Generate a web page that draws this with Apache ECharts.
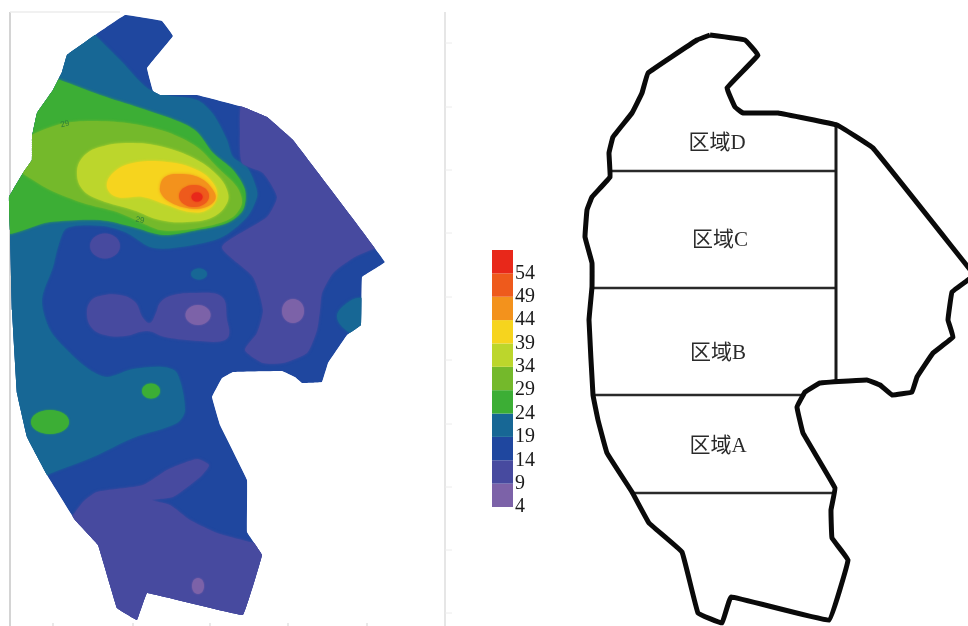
<!DOCTYPE html>
<html><head><meta charset="utf-8">
<style>html,body{margin:0;padding:0;background:#fff}#c{width:968px;height:626px}</style>
<script src="https://cdn.jsdelivr.net/npm/echarts@6/dist/echarts.min.js"></script>
</head><body><div id="c"></div>
<script>
// Colour scale
const scaleStarts = [4, 9, 14, 19, 24, 29, 34, 39, 44, 49, 54];
const scaleColors = ['#7c62a8', '#474a9f', '#1f479f', '#176795', '#3cae35', '#74b92b', '#bcd62c', '#f6d41e', '#f3921c', '#ee5a1c', '#e8281a'];
const scaleMax = 59;

// Left map: boundary and contour regions (map units)
const mapBoundary = [[125,15],[162,21],[173,36],[147,68],[153,91],[160,95],[197,95],[243,107],[267,117],[293,140],[385,262],[362,277],[361,325],[347,335],[328,363],[322,382],[302,383],[295,377],[282,371],[233,372],[222,378],[212,397],[220,425],[247,480],[247,532],[262,555],[243,615],[147,593],[137,620],[117,608],[98,545],[75,520],[47,475],[27,437],[17,393],[12,310],[10,230],[9,197],[23,173],[32,160],[32,137],[37,113],[53,90],[62,72],[67,55],[95,35]];
const contour19 = [[95,35],[122,62],[147,88],[165,95],[197,100],[213,114],[227,140],[233,157],[247,167],[256,187],[257,197],[247,217],[220,238],[173,248],[150,247],[127,233],[103,226],[67,228],[58,247],[53,267],[42,300],[50,330],[70,353],[90,370],[107,377],[133,369],[163,367],[177,373],[185,410],[177,423],[133,438],[93,457],[47,475],[20,490],[-5,400],[-5,60],[70,10]];
const contour9East = [[243,100],[240,133],[242,163],[263,173],[277,197],[267,217],[222,247],[253,277],[263,310],[257,333],[245,350],[263,363],[283,363],[307,353],[317,330],[320,310],[322,293],[333,273],[353,258],[373,249],[400,240],[400,100],[300,80]];
const contour9South = [[65,528],[83,502],[97,492],[143,485],[167,470],[197,459],[209,465],[200,477],[173,497],[152,500],[170,505],[190,520],[217,533],[250,542],[275,548],[275,635],[90,635],[60,545]];
const contour9Middle = [[87,315],[90,302],[100,296],[120,295],[135,302],[143,318],[150,323],[156,313],[160,303],[170,296],[195,293],[222,297],[227,320],[229,335],[222,341],[200,341],[165,337],[147,331],[125,336],[105,335],[92,328]];
const contour19East = [[337,317],[347,303],[362,298],[378,310],[372,340],[350,333]];
const contour24 = [[60,80],[100,95],[140,108],[180,122],[197,132],[213,153],[233,170],[245,190],[243,210],[227,223],[197,230],[163,235],[133,227],[100,220],[50,222],[0,232],[0,150],[30,70]];
const contour29 = [[20,143],[57,125],[87,121],[127,123],[167,132],[197,147],[217,167],[237,187],[242,203],[233,217],[213,225],[183,230],[160,230],[140,222],[117,212],[83,203],[50,190],[33,180],[18,168]];
const contour34 = [[77,173],[83,157],[100,147],[133,143],[167,148],[197,160],[217,175],[227,190],[227,203],[213,217],[187,222],[160,220],[133,210],[100,200],[83,190]];
const contour39 = [[107,187],[113,173],[133,163],[167,162],[197,170],[213,183],[217,198],[207,210],[190,212],[167,205],[143,197],[117,197]];
const contour44 = [[160,187],[165,177],[180,174],[200,178],[213,190],[215,200],[203,208],[187,208],[170,202],[162,195]];
// Closed spots: centre x, centre y, radius x, radius y, band start
const spots = [
  [105,246,15,12.5,9],[198,315,12.5,10,4],[293,311,11,12,4],[198,586,6,8,4],
  [199,274,8,5.5,19],[151,391,9,7.5,24],[50,422,19,12,24],
  [194,196,15,11,49],[197,197,5.5,4.5,54]
];
const contourNotes = [['29',65,124,-15],['29',140,220,10]];

// Right map: zone outline and dividers
const zoneOutline = [[710,35],[745,40],[758,55],[727,88],[735,107],[743,113],[778,113],[837,125],[873,148],[976,277],[976,274],[968,280],[952,292],[948,320],[953,337],[933,353],[917,377],[912,392],[892,395],[880,385],[867,380],[820,383],[805,392],[797,407],[803,433],[835,488],[831,510],[832,538],[848,560],[829,620],[731,597],[722,623],[698,613],[682,552],[649,523],[632,492],[607,453],[598,420],[593,395],[589,320],[592,287],[592,263],[585,237],[587,210],[592,197],[610,177],[609,153],[613,137],[632,113],[642,93],[648,73],[697,40],[710,35]];
const zoneDividers = [[[610,171],[836,171]],[[592,288],[836,288]],[[593,395],[803,395]],[[633,493],[835,493]]];
const zoneSpine = [[836,125],[836,382]];
const zoneNames = ['区域D','区域C','区域B','区域A'];
const zoneLabelAt = [[717,143],[720,240],[718,353],[718,446]];

// Faint frame behind the left map
const frameLines = [[[10,12],[10,626]],[[10,12],[120,12]],[[445,12],[445,626]]];
const frameTicksRight = [43,107,170,233,297,360,424,487,550,613];
const frameTicksBottom = [53,133,210,288,367];

const colorOf = v => scaleColors[scaleStarts.indexOf(v)];
const regions = [
  [mapBoundary, 14, 0.04],
  [contour19, 19, .3],
  [contour9East, 9, .2],
  [contour9South, 9, .2],
  [contour9Middle, 9, .4],
  [contour19East, 19, .4],
  [contour24, 24, .3],
  [contour29, 29, .3],
  [contour34, 34, .4],
  [contour39, 39, .4],
  [contour44, 44, .4]
];

const chart = echarts.init(document.getElementById('c'), null, {renderer:'canvas'});
const toPx = (api, pts) => pts.map(p => api.coord(p));

chart.setOption({
  animation:false,
  backgroundColor:'#fff',
  grid:[
    {left:0,top:0,right:0,bottom:0},
    {left:492,top:250,width:21,height:257}
  ],
  xAxis:[
    {type:'value',gridIndex:0,min:0,max:968,show:false},
    {type:'value',gridIndex:1,min:0,max:1,show:false}
  ],
  yAxis:[
    {type:'value',gridIndex:0,min:0,max:626,inverse:true,show:false},
    {type:'value',gridIndex:1,min:4,max:scaleMax,interval:5,position:'right',
     axisLine:{show:false},axisTick:{show:false},splitLine:{show:false},
     axisLabel:{show:true,showMaxLabel:false,margin:2,padding:[2,0,0,0],color:'#1a1a1a',fontSize:20,fontFamily:'"Liberation Serif",serif',
       align:'left'}}
  ],
  series:[
    { // frame
      type:'custom',coordinateSystem:'cartesian2d',xAxisIndex:0,yAxisIndex:0,silent:true,clip:false,
      data:[0],
      renderItem(params,api){
        const children=[];
        frameLines.forEach((l,i)=>{
          const a=api.coord(l[0]),b=api.coord(l[1]);
          children.push({type:'line',shape:{x1:a[0],y1:a[1],x2:b[0],y2:b[1]},style:{stroke:i===0?'#d4d4d4':(i===1?'#ececec':'#e6e6e6'),lineWidth:i===1?1.5:2}});
        });
        frameTicksRight.forEach(y=>{
          const a=api.coord([445,y]),b=api.coord([452,y]);
          children.push({type:'line',shape:{x1:a[0],y1:a[1],x2:b[0],y2:b[1]},style:{stroke:'#ececec',lineWidth:1}});
        });
        frameTicksBottom.forEach(x=>{
          const a=api.coord([x,623]),b=api.coord([x,626]);
          children.push({type:'line',shape:{x1:a[0],y1:a[1],x2:b[0],y2:b[1]},style:{stroke:'#e2e2e2',lineWidth:1.5}});
        });
        return {type:'group',children};
      }
    },
    { // contour regions, clipped to the boundary
      type:'custom',coordinateSystem:'cartesian2d',xAxisIndex:0,yAxisIndex:0,silent:true,clip:false,
      data:regions.map((r,i)=>i),
      renderItem(params,api){
        const r=regions[params.dataIndex];
        const col=colorOf(r[1]);
        return {type:'polygon',
          shape:{points:toPx(api,r[0]),smooth:r[2]},
          clipPath:{type:'polygon',shape:{points:toPx(api,mapBoundary),smooth:.04}},
          style:{fill:col,shadowBlur:3,shadowColor:col}};
      }
    },
    { // spots
      type:'custom',coordinateSystem:'cartesian2d',xAxisIndex:0,yAxisIndex:0,silent:true,clip:false,
      data:spots,
      renderItem(params,api){
        const s=spots[params.dataIndex];
        const c=api.coord([s[0],s[1]]),e=api.coord([s[0]+s[2],s[1]+s[3]]);
        const col=colorOf(s[4]);
        return {type:'ellipse',shape:{cx:c[0],cy:c[1],rx:Math.abs(e[0]-c[0]),ry:Math.abs(e[1]-c[1])},style:{fill:col,shadowBlur:2,shadowColor:col}};
      }
    },
    { // contour value notes
      type:'custom',coordinateSystem:'cartesian2d',xAxisIndex:0,yAxisIndex:0,silent:true,clip:false,
      data:contourNotes.map((n,i)=>i),
      renderItem(params,api){
        const n=contourNotes[params.dataIndex];
        const c=api.coord([n[1],n[2]]);
        return {type:'text',x:c[0],y:c[1],rotation:-n[3]*Math.PI/180,
          style:{text:n[0],fill:'#2f7f3a',fontSize:8,fontFamily:'"Liberation Sans",sans-serif',align:'center',verticalAlign:'middle'}};
      }
    },
    { // colour bar
      type:'custom',coordinateSystem:'cartesian2d',xAxisIndex:1,yAxisIndex:1,silent:true,clip:false,
      data:scaleStarts.map(v=>[v,v+5]),
      renderItem(params,api){
        const lo=api.value(0),hi=api.value(1);
        const a=api.coord([0,lo]),b=api.coord([1,hi]);
        return {type:'rect',shape:{x:a[0],y:b[1],width:b[0]-a[0],height:a[1]-b[1]},style:{fill:colorOf(lo)}};
      }
    },
    { // zone outline
      type:'custom',coordinateSystem:'cartesian2d',xAxisIndex:0,yAxisIndex:0,silent:true,clip:false,
      data:[0],
      renderItem(params,api){
        const children=[];
        zoneDividers.forEach(l=>{
          children.push({type:'polyline',shape:{points:toPx(api,l)},style:{stroke:'#2a2a2a',lineWidth:2.5,fill:null}});
        });
        children.push({type:'polyline',shape:{points:toPx(api,zoneSpine)},style:{stroke:'#1a1a1a',lineWidth:3,fill:null}});
        children.push({type:'polyline',shape:{points:toPx(api,zoneOutline),smooth:.06},style:{stroke:'#0a0a0a',lineWidth:5,fill:null,lineJoin:'round'}});
        zoneNames.forEach((t,i)=>{
          const c=api.coord(zoneLabelAt[i]);
          children.push({type:'text',x:c[0],y:c[1],style:{text:t,fill:'#2a2a2a',fontSize:21,fontFamily:'"Liberation Serif","Noto Sans CJK SC",serif',align:'center',verticalAlign:'middle'}});
        });
        return {type:'group',children};
      }
    }
  ]
});
</script></body></html>
